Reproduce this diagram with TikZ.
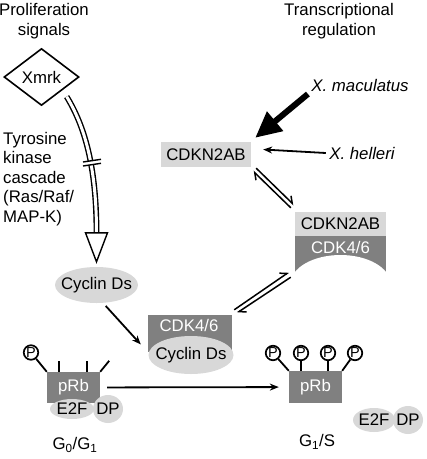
\documentclass[tikz,border=0pt]{standalone}
\usepackage{fontspec}
\setmainfont{Liberation Sans}
\usetikzlibrary{shapes.geometric, arrows.meta}

\definecolor{boxdark}{RGB}{128,128,128}
\definecolor{boxlight}{RGB}{216,216,216}
\newcommand{\nowidth}[1]{\makebox[0pt]{#1}}

\begin{document}
\begin{tikzpicture}[x=1pt, y=-1pt, font=\fontsize{16.8}{19.5}\selectfont,
  darkbox/.style={fill=boxdark, text=white, inner sep=0pt},
  lightbox/.style={fill=boxlight, inner sep=0pt},
  oval/.style={ellipse, fill=boxlight, inner sep=0pt},
  phos/.style={circle, draw, line width=1.7pt, minimum size=14.5pt, inner sep=0pt, font=\fontsize{14.5}{14.5}\selectfont},
  link/.style={line width=1.8pt},
  equil/.style={line width=1.5pt, -{Straight Barb[left, length=6pt, width=9pt]}}]
\useasboundingbox (0,0) rectangle (427,459);

\path (44,21) node[align=center] (prolif) {Proliferation\\signals}
		(339,21) node[align=center] (transcr) {Transcriptional\\regulation}
		(41.5,77) node[diamond, draw, line width=1.6pt, minimum width=75pt, minimum height=57pt, inner sep=0pt] (xmrk) {Xmrk}
		(3,179) node[anchor=west, align=left, inner sep=0pt] (kinase) {Tyrosine\\kinase\\cascade\\(Ras/Raf/\\MAP-K)}
		(360,85) node (xmac) {\itshape X. maculatus}
		(362,153) node (xhel) {\itshape X. helleri}
		(206,154.5) node[lightbox, minimum width=90pt, minimum height=25pt] (cdkn) {CDKN2AB}
		(96.5,285) node[oval, minimum width=83pt, minimum height=36pt] (cycd) {\nowidth{Cyclin Ds}};

% CDK4/6 with cyclin D
\path (190,333.5) node[darkbox, minimum width=84pt, minimum height=37pt] (cdk) {}
		(189,325) node[text=white] (cdktxt) {CDK4/6}
		(191,355) node[oval, minimum width=85pt, minimum height=38pt] (cycd2) {\nowidth{Cyclin Ds}};

% CDK4/6 held by CDKN2AB
\path (340.5,224) node[lightbox, minimum width=91pt, minimum height=24pt] (inhib) {CDKN2AB}
		(340.5,254) node[darkbox, minimum width=91pt, minimum height=36pt] (cdkb) {};
\fill[white] (340.5,284) ellipse [x radius=50, y radius=29];
\path (340.5,247) node[text=white] (cdkbtxt) {CDK4/6};

% pRb before and after
\path (73.5,387.5) node[darkbox, minimum width=53pt, minimum height=31pt] (prb0) {pRb}
		(108,409) node[oval, minimum width=30pt, minimum height=28pt] (dp0) {\nowidth{DP}}
		(72,409) node[oval, minimum width=44pt, minimum height=20pt] (etf0) {\nowidth{E2F}}
		(31,352.5) node[phos] (p0) {P}
		(75,445) node (g0) {G\textsubscript{0}/G\textsubscript{1}}
		(315.5,387) node[darkbox, minimum width=53pt, minimum height=32pt] (prb1) {pRb}
		(273,353) node[phos] (p1) {P}
		(301,353) node[phos] (p2) {P}
		(328,353) node[phos] (p3) {P}
		(355,353) node[phos] (p4) {P}
		(408,420) node[oval, minimum width=30pt, minimum height=28pt] (dp1) {\nowidth{DP}}
		(374,420) node[oval, minimum width=42pt, minimum height=24pt] (etf1) {\nowidth{E2F}}
		(317,442) node (g1) {G\textsubscript{1}/S};

% signal cascade
\draw[double, double distance=3pt, line width=1.4pt] ([shift={(6,5)}]xmrk.south east) .. controls (84,125) and (96.5,165) .. ([yshift=34pt]cycd.north);
\draw[line width=1.4pt, fill=white] ([shift={(-11,-34)}]cycd.north) -- ([yshift=5pt]cycd.north) -- ([shift={(11,-34)}]cycd.north) -- cycle;
\fill[white] (84,162) -- (100,159.5) -- (100,163.5) -- (84,166) -- cycle;
\draw[line width=1.4pt] (83,162) -- (101,159.3) (83,166) -- (101,163.3);

\draw[line width=6pt, -{Triangle[length=26pt, width=24pt]}] ([shift={(0,9)}]xmac.west) -- ([shift={(4,-4)}]cdkn.north east);
\draw[link, -{Stealth[length=9pt, width=7pt]}] (xhel.west) -- ([shift={(12,-5)}]cdkn.east);
\draw[link, -{Stealth[length=9pt, width=7pt]}, shorten <=4pt] (node cs:name=cycd, angle=-70) -- ([shift={(-7,11)}]cdk.west);

\draw[equil] ([shift={(-4,-4)}]inhib.north west) -- ([shift={(2,4)}]cdkn.south east);
\draw[equil] ([shift={(5,1)}]cdkn.south east) -- ([shift={(-1,-7)}]inhib.north west);
\draw[equil] ([shift={(2,-5)}]cdk.north east) -- ([shift={(-6,0)}]cdkb.south west);
\draw[equil] ([shift={(-4,5)}]cdkb.south west) -- ([shift={(5,-2)}]cdk.north east);

\draw[link] (node cs:name=p0) -- (prb0.north west);
\draw[link] ([xshift=-14.5pt]prb0.north) -- ++(0,-11);
\draw[link] ([xshift=13.5pt]prb0.north) -- ++(0,-11);
\draw[link] (prb0.north east) -- ++(9,-11);
\draw[link] (node cs:name=p1) -- (prb1.north west);
\draw[link] (node cs:name=p2) -- (p2 |- prb1.north);
\draw[link] (node cs:name=p3) -- (p3 |- prb1.north);
\draw[link] (node cs:name=p4) -- (prb1.north east);

\draw[link, -{Stealth[length=9pt, width=7pt]}, shorten <=7pt, shorten >=10pt] (node cs:name=prb0) -- (node cs:name=prb1);
\end{tikzpicture}
\end{document}
